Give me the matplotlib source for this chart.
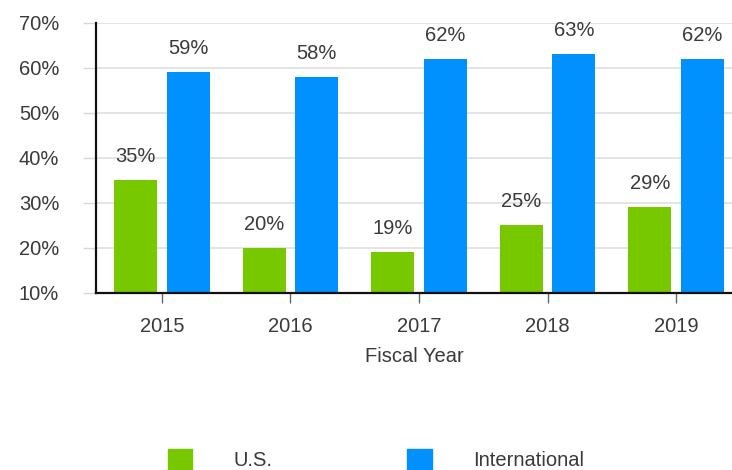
import numpy as np
import matplotlib.pyplot as plt
from matplotlib.patches import Patch

# данные
years = ['2015', '2016', '2017', '2018', '2019']
us = [35, 20, 19, 25, 29]
intl = [59, 58, 62, 63, 62]
yticks = [10, 20, 30, 40, 50, 60, 70]

green = '#78c800'
blue = '#0091ff'
txt = '#3a3a3a'

plt.rcParams['font.family'] = ['Liberation Sans', 'DejaVu Sans']
fs = 14.5

fig = plt.figure(figsize=(7.32, 4.70), dpi=100)
ax = fig.add_axes([96 / 732, 1 - 292.7 / 470, 1 - 96 / 732, (292.7 - 22.7) / 470])

x = np.arange(len(years))
w = 0.334
off = 0.205
b1 = ax.bar(x - off, us, w, bottom=0, color=green, zorder=3)
b2 = ax.bar(x + off, intl, w, bottom=0, color=blue, zorder=3)

for bars, vals in ((b1, us), (b2, intl)):
    for r, v in zip(bars, vals):
        ax.annotate(f'{v}%', (r.get_x() + r.get_width() / 2, v), xytext=(0, 10),
                    textcoords='offset points', ha='center', va='bottom',
                    fontsize=fs, color=txt)

ax.set_ylim(10, 70)
ax.set_xlim(-0.513, 4.435)
ax.set_yticks(yticks)
ax.set_yticklabels([f'{t}%' for t in yticks])
ax.set_xticks(x)
ax.set_xticklabels(years)

ax.grid(axis='y', color='#e2e2e2', linewidth=1.3, zorder=0)
ax.set_axisbelow(True)
for s in ('top', 'right'):
    ax.spines[s].set_visible(False)
for s in ('left', 'bottom'):
    ax.spines[s].set_color('#111111')
    ax.spines[s].set_linewidth(1.6)
    ax.spines[s].set_zorder(4)

ax.tick_params(axis='y', length=9.5, width=1.0, color='#d8d8d8', pad=17,
               labelsize=fs, labelcolor=txt)
ax.tick_params(axis='x', length=7.5, width=1.0, color='#666666', pad=10,
               labelsize=fs, labelcolor=txt)
ax.set_xlabel('Fiscal Year', fontsize=fs, color=txt, labelpad=8)

handles = [Patch(color=green, label='U.S.'), Patch(color=blue, label='International')]
fig.legend(handles=handles, loc='upper left', bbox_to_anchor=(168 / 732, 1 - 449 / 470),
           ncol=2, frameon=False, fontsize=fs, labelcolor=txt,
           handlelength=1.2, handleheight=1.2, handletextpad=2.05,
           columnspacing=6.7, borderpad=0, borderaxespad=0)

fig.savefig('out.png', dpi=100)
